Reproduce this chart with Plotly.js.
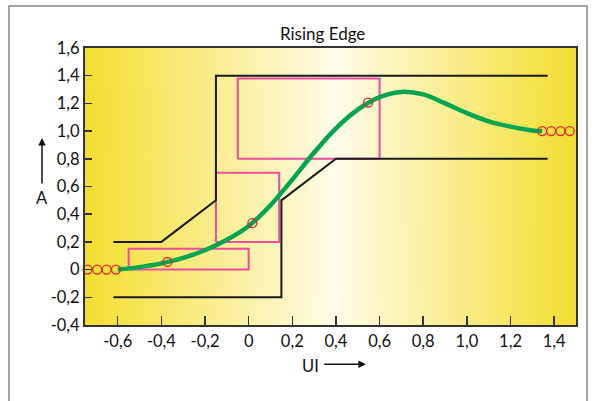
<!DOCTYPE html>
<html>
<head>
<meta charset="utf-8">
<script src="https://cdn.plot.ly/plotly-3.0.1.min.js"></script>
<style>
html,body{margin:0;padding:0;background:#fff;}
#chart{width:596px;height:401px;}
</style>
</head>
<body>
<div id="chart"></div>
<script>
// ---- data ----
const maskUpperX = [-0.62, -0.4, -0.15, -0.15, 1.37];
const maskUpperY = [0.2, 0.2, 0.5, 1.4, 1.4];
const maskLowerX = [-0.62, 0.15, 0.15, 0.4, 1.37];
const maskLowerY = [-0.2, -0.2, 0.5, 0.8, 0.8];

const boxTopX = [-0.05, 0.6, 0.6, -0.05, -0.05];
const boxTopY = [0.8, 0.8, 1.38, 1.38, 0.8];
const boxMidX = [-0.15, 0.14, 0.14, -0.15, -0.15];
const boxMidY = [0.2, 0.2, 0.7, 0.7, 0.2];
const boxLowX = [-0.55, 0, 0, -0.55, -0.55];
const boxLowY = [0, 0, 0.15, 0.15, 0];

const edgeX = [-0.6, -0.5, -0.4, -0.3, -0.2, -0.1, 0, 0.1, 0.2, 0.3, 0.4, 0.5, 0.6, 0.7, 0.8, 0.9, 1.0, 1.1, 1.2, 1.3, 1.345];
const edgeY = [0, 0.018, 0.045, 0.085, 0.14, 0.215, 0.315, 0.465, 0.65, 0.845, 1.02, 1.155, 1.245, 1.283, 1.265, 1.2, 1.13, 1.07, 1.032, 1.005, 1.0];

const sampleX = [-0.738, -0.694, -0.651, -0.608, -0.373, 0.017, 0.547, 1.345, 1.386, 1.429, 1.471];
const sampleY = [0, 0, 0, 0, 0.055, 0.336, 1.206, 1.0, 1.0, 1.0, 1.0];

const xTickVals = [-0.6, -0.4, -0.2, 0, 0.2, 0.4, 0.6, 0.8, 1.0, 1.2, 1.4];
const xTickText = ['-0,6', '-0,4', '-0,2', '0', '0,2', '0,4', '0,6', '0,8', '1,0', '1,2', '1,4'];
const yTickVals = [-0.4, -0.2, 0, 0.2, 0.4, 0.6, 0.8, 1.0, 1.2, 1.4, 1.6];
const yTickText = ['-0,4', '-0,2', '0', '0,2', '0,4', '0,6', '0,8', '1,0', '1,2', '1,4', '1,6'];

// ---- background gradient image ----
const cv = document.createElement('canvas');
cv.width = 491; cv.height = 4;
const ctx = cv.getContext('2d');
const g = ctx.createLinearGradient(0, 0, 491, 0);
g.addColorStop(0, '#f3de30');
g.addColorStop(0.51, '#fffce9');
g.addColorStop(1, '#f3de30');
ctx.fillStyle = g;
ctx.fillRect(0, 0, 491, 4);
const bgUrl = cv.toDataURL('image/png');

const FONT = 'Lato, "Open Sans", sans-serif';
const pink = '#ee4c9c';
const black = '#1a1a1a';

const traces = [
  {x: boxTopX, y: boxTopY, mode: 'lines', line: {color: pink, width: 2}, hoverinfo: 'skip'},
  {x: boxMidX, y: boxMidY, mode: 'lines', line: {color: pink, width: 2}, hoverinfo: 'skip'},
  {x: boxLowX, y: boxLowY, mode: 'lines', line: {color: pink, width: 2}, hoverinfo: 'skip'},
  {x: maskUpperX, y: maskUpperY, mode: 'lines', line: {color: black, width: 2}, hoverinfo: 'skip'},
  {x: maskLowerX, y: maskLowerY, mode: 'lines', line: {color: black, width: 2}, hoverinfo: 'skip'},
  {x: edgeX, y: edgeY, mode: 'lines', line: {color: '#00a550', width: 4.5, shape: 'spline', smoothing: 1}, hoverinfo: 'skip'},
  {x: sampleX, y: sampleY, mode: 'markers', cliponaxis: false,
   marker: {symbol: 'circle-open', size: 9, color: '#e6262c', line: {width: 1.3, color: '#e6262c'}}, hoverinfo: 'skip'}
];

const layout = {
  width: 596, height: 401,
  margin: {l: 85, r: 20, t: 48, b: 76},
  paper_bgcolor: '#ffffff',
  plot_bgcolor: 'rgba(0,0,0,0)',
  showlegend: false,
  font: {family: FONT, size: 16.5, color: '#111'},
  title: {text: 'Rising Edge', font: {family: FONT, size: 17, color: '#111'},
          xref: 'paper', x: 0.484, xanchor: 'center',
          yref: 'container', y: 1 - 34/401, yanchor: 'middle'},
  xaxis: {range: [-0.75, 1.5], tickvals: xTickVals, ticktext: xTickText,
          ticks: 'inside', ticklen: 9, tickwidth: 1.5, tickcolor: '#333',
          showgrid: false, zeroline: false, showline: true, mirror: true,
          linecolor: '#333', linewidth: 2, tickfont: {size: 16.5, color: '#111'}},
  yaxis: {range: [-0.4, 1.6], tickvals: yTickVals, ticktext: yTickText,
          ticks: 'inside', ticklen: 7, tickwidth: 1.5, tickcolor: '#333',
          showgrid: false, zeroline: false, showline: true, mirror: true,
          linecolor: '#333', linewidth: 2, tickfont: {size: 16.5, color: '#111'}},
  images: [{source: bgUrl, xref: 'paper', yref: 'paper', x: 0, y: 1,
            sizex: 1, sizey: 1, sizing: 'stretch', layer: 'below',
            xanchor: 'left', yanchor: 'top'}],
  shapes: [
    {type: 'rect', xref: 'paper', yref: 'paper', x0: -0.1548, x1: 1.0224,
     y0: -0.32, y1: 1.1516, line: {color: '#888', width: 1.5}, fillcolor: 'rgba(0,0,0,0)', layer: 'below'}
  ],
  annotations: [
    {xref: 'paper', yref: 'paper', x: -0.0876, y: 0.675, ax: 0, ay: 47,
     showarrow: true, arrowhead: 2, arrowsize: 1, arrowwidth: 1.5, arrowcolor: '#111', text: ''},
    {xref: 'paper', yref: 'paper', x: -0.0876, y: 0.458, text: 'A', showarrow: false,
     font: {family: FONT, size: 16.5, color: '#111'}, xanchor: 'center', yanchor: 'middle'},
    {xref: 'paper', yref: 'paper', x: 0.572, y: -0.142, ax: -43, ay: 0,
     showarrow: true, arrowhead: 2, arrowsize: 1, arrowwidth: 1.5, arrowcolor: '#111', text: ''},
    {xref: 'paper', yref: 'paper', x: (310.5-85)/491, y: (325-366)/277, text: 'UI', showarrow: false,
     font: {family: FONT, size: 16.5, color: '#111'}, xanchor: 'center', yanchor: 'middle'}
  ]
};

Plotly.newPlot('chart', traces, layout, {staticPlot: true, displayModeBar: false});
</script>
</body>
</html>
